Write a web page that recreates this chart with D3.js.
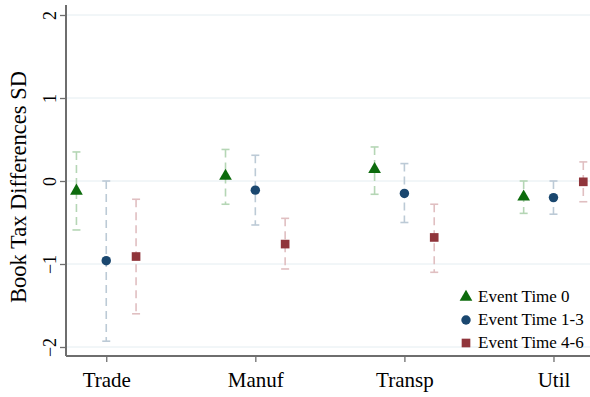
<!DOCTYPE html>
<html>
<head>
<meta charset="utf-8">
<script src="https://cdn.jsdelivr.net/npm/d3@7"></script>
<style>
  body { margin: 0; background: #fff; }
</style>
</head>
<body>
<div id="chart"></div>
<script>
// datos
const categories = ["Trade", "Manuf", "Transp", "Util"];
const seriesNames = ["Event Time 0", "Event Time 1-3", "Event Time 4-6"];
const yTicks = [-2, -1, 0, 1, 2];

// estimacion, limite inferior, limite superior por categoria
const est0 = [-0.12, 0.06, 0.14, -0.19];
const lo0  = [-0.59, -0.28, -0.16, -0.39];
const hi0  = [0.35, 0.38, 0.41, 0.00];

const est1 = [-0.96, -0.11, -0.15, -0.20];
const lo1  = [-1.93, -0.53, -0.50, -0.40];
const hi1  = [0.00, 0.31, 0.21, 0.00];

const est2 = [-0.91, -0.76, -0.68, -0.01];
const lo2  = [-1.60, -1.06, -1.10, -0.25];
const hi2  = [-0.22, -0.45, -0.28, 0.23];

const FONT = "'Liberation Serif', 'Times New Roman', serif";
const W = 590, H = 397;
const margin = { left: 66, right: 0, top: 5, bottom: 41 };

const svg = d3.select("#chart").append("svg")
    .attr("width", W).attr("height", H)
    .attr("font-family", FONT);

const x = d3.scaleLinear().domain([0.73, 4.245]).range([margin.left, W - margin.right]);
const y = d3.scaleLinear().domain([-2, 2]).range([347, 15]);

const series = [
  { name: seriesNames[0], est: est0, lo: lo0, hi: hi0, off: -0.2, color: "#0d6b0d", ci: "#b5d6b5", shape: d3.symbolTriangle, size: 70 },
  { name: seriesNames[1], est: est1, lo: lo1, hi: hi1, off: 0, color: "#1a476f", ci: "#bccad6", shape: d3.symbolCircle, size: 70 },
  { name: seriesNames[2], est: est2, lo: lo2, hi: hi2, off: 0.2, color: "#90353b", ci: "#e0bfc1", shape: d3.symbolSquare, size: 75 }
];

// grilla
svg.append("g").selectAll("line").data(yTicks).enter().append("line")
    .attr("x1", margin.left).attr("x2", W)
    .attr("y1", d => y(d)).attr("y2", d => y(d))
    .attr("stroke", "#e4edf1").attr("stroke-width", 1);

// barras de error
series.forEach(s => {
  const g = svg.append("g");
  categories.forEach((c, i) => {
    const cx = x(i + 1 + s.off);
    g.append("line")
      .attr("x1", cx).attr("x2", cx)
      .attr("y1", y(s.hi[i])).attr("y2", y(s.lo[i]))
      .attr("stroke", s.ci).attr("stroke-width", 1.6)
      .attr("stroke-dasharray", "8,5");
    [s.hi[i], s.lo[i]].forEach(v => {
      g.append("line")
        .attr("x1", cx - 4).attr("x2", cx + 4)
        .attr("y1", y(v)).attr("y2", y(v))
        .attr("stroke", s.ci).attr("stroke-width", 1.6);
    });
  });
});

// puntos
series.forEach(s => {
  svg.append("g").selectAll("path").data(s.est).enter().append("path")
    .attr("d", d3.symbol().type(s.shape).size(s.size))
    .attr("transform", (d, i) => `translate(${x(i + 1 + s.off)},${y(d)})`)
    .attr("fill", s.color);
});

// ejes
const yAxis = svg.append("g").attr("transform", `translate(${margin.left},0)`)
    .call(d3.axisLeft(y).tickValues(yTicks).tickSize(6).tickPadding(4).tickFormat(d3.format("d")));
yAxis.attr("font-family", FONT);
yAxis.select(".domain").attr("d", `M0,${margin.top}V${H - margin.bottom}`).attr("stroke", "#6e6e6e").attr("stroke-width", 2);
yAxis.selectAll(".tick line").attr("stroke", "#6e6e6e").attr("stroke-width", 1.3);
yAxis.selectAll(".tick text")
    .attr("font-size", 18).attr("fill", "#000")
    .attr("text-anchor", "middle")
    .attr("transform", "translate(-15,0) rotate(-90)")
    .attr("x", 0).attr("dy", 0).attr("y", 5);

const xAxis = svg.append("g").attr("transform", `translate(0,${H - margin.bottom})`)
    .call(d3.axisBottom(x).tickValues([1, 2, 3, 4]).tickSize(6).tickPadding(10)
      .tickFormat(d => categories[d - 1]));
xAxis.attr("font-family", FONT);
xAxis.select(".domain").attr("d", `M${margin.left},0H${W}`).attr("stroke", "#6e6e6e").attr("stroke-width", 2);
xAxis.selectAll(".tick line").attr("stroke", "#6e6e6e").attr("stroke-width", 1.3);
xAxis.selectAll(".tick text").attr("font-size", 21).attr("fill", "#000");

// titulo eje y
svg.append("text")
    .attr("transform", `translate(26,${(y(2) + y(-2)) / 2 + 6}) rotate(-90)`)
    .attr("text-anchor", "middle").attr("font-size", 22.5)
    .text("Book Tax Differences SD");

// leyenda
const leg = svg.append("g").attr("transform", "translate(466,297)");
series.forEach((s, i) => {
  const row = leg.append("g").attr("transform", `translate(0,${i * 23})`);
  row.append("path").attr("d", d3.symbol().type(s.shape).size(s.size)).attr("fill", s.color);
  row.append("text").attr("x", 12).attr("y", 5).attr("font-size", 17).text(s.name);
});
</script>
</body>
</html>
